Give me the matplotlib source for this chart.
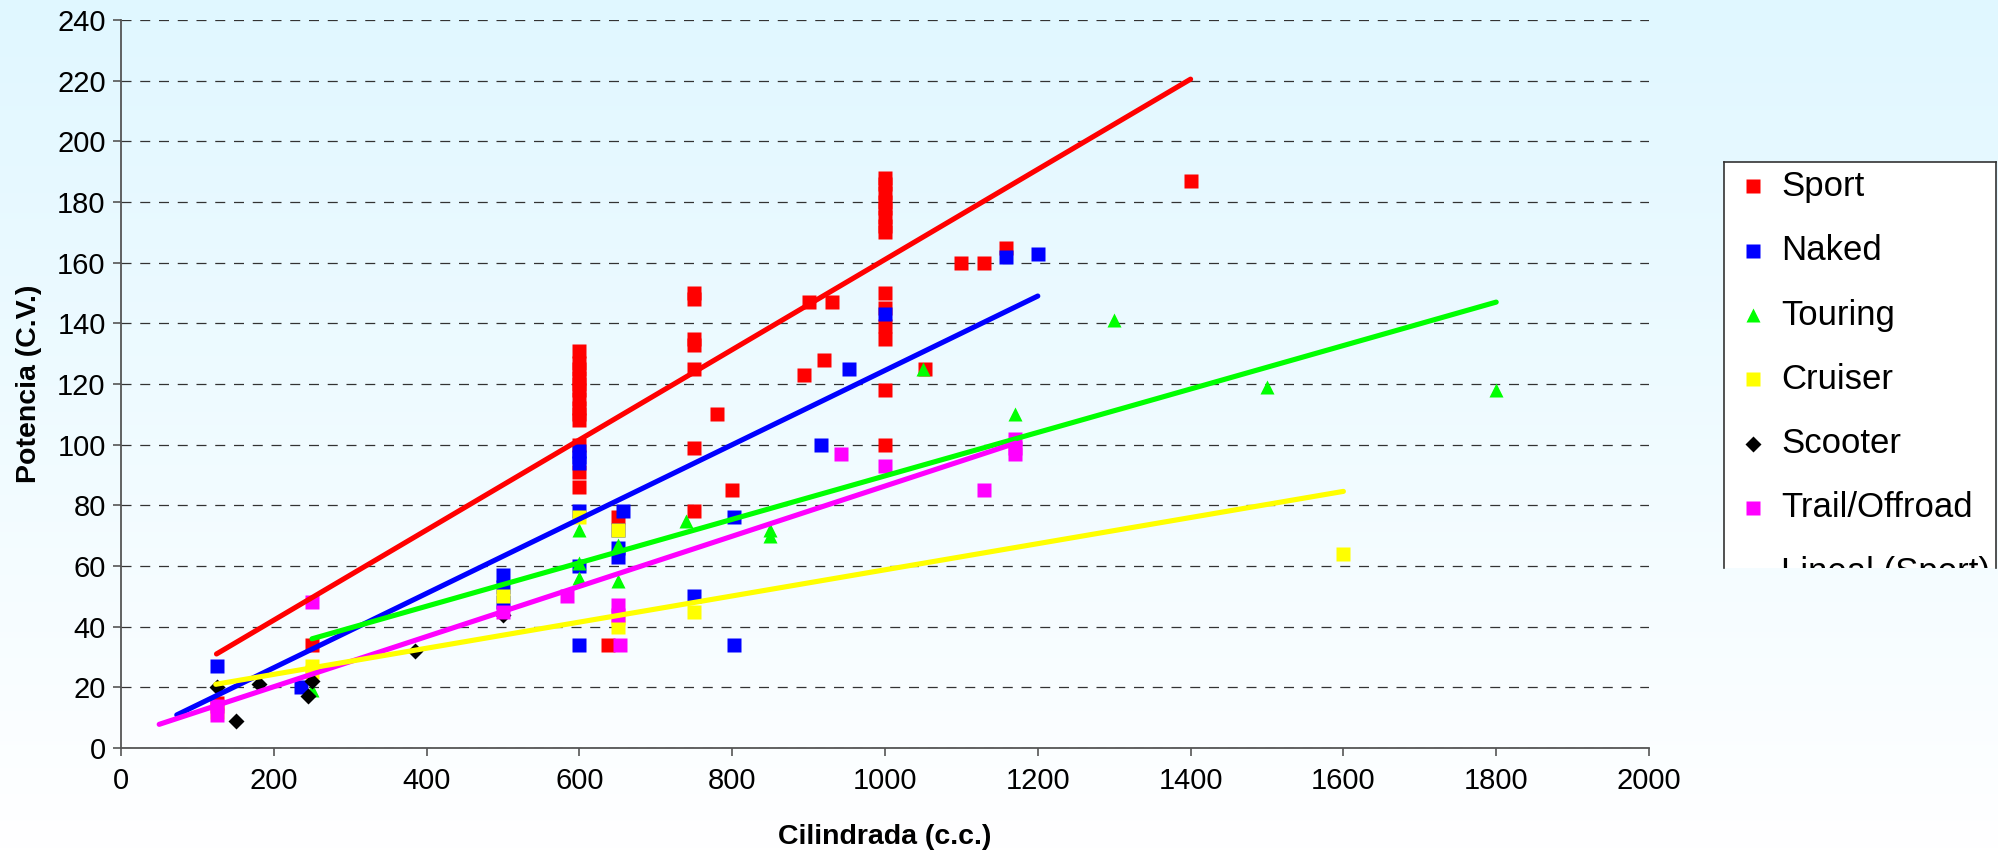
import numpy as np
import matplotlib
matplotlib.use("Agg")
import matplotlib.pyplot as plt

plt.rcParams['font.family'] = ['Liberation Sans', 'DejaVu Sans']

# ---------------- data ----------------
series_names = ["Sport", "Naked", "Touring", "Cruiser", "Scooter", "Trail/Offroad"]

sport_cc = [125, 250, 600, 600, 600, 600, 600, 600, 600, 600, 600, 600, 600, 600, 600,
            637, 650, 750, 750, 750, 750, 750, 750, 750, 780, 800, 894, 900, 920, 930,
            1000, 1000, 1000, 1000, 1000, 1000, 1000, 1000, 1000, 1000, 1000, 1000, 1000, 1000,
            1053, 1100, 1130, 1158, 1400]
sport_cv = [15, 34, 131, 127, 125, 122, 120, 118, 115, 112, 110, 108, 100, 91, 86,
            34, 76, 150, 148, 135, 133, 125, 99, 78, 110, 85, 123, 147, 128, 147,
            188, 186, 183, 180, 178, 175, 172, 170, 150, 145, 139, 135, 118, 100,
            125, 160, 160, 165, 187]

naked_cc = [125, 235, 500, 500, 500, 600, 600, 600, 600, 600, 600, 650, 650, 650, 657,
            750, 803, 803, 916, 953, 1000, 1158, 1200]
naked_cv = [27, 20, 57, 53, 48, 98, 96, 94, 78, 60, 34, 72, 66, 63, 78,
            50, 76, 34, 100, 125, 143, 162, 163]

touring_cc = [250, 600, 600, 600, 650, 650, 740, 850, 850, 1050, 1170, 1300, 1500, 1800]
touring_cv = [19, 72, 61, 56, 67, 55, 75, 72, 70, 125, 110, 141, 119, 118]

cruiser_cc = [125, 250, 250, 500, 600, 650, 650, 650, 750, 1600]
cruiser_cv = [12, 27, 25, 50, 76, 72, 43, 40, 45, 64]

scooter_cc = [125, 150, 180, 245, 250, 385, 500]
scooter_cv = [20, 9, 21, 17, 22, 32, 44]

trail_cc = [125, 125, 250, 500, 584, 650, 650, 653, 943, 1000, 1130, 1170, 1170, 1170]
trail_cv = [11, 14, 48, 45, 50, 47, 44, 34, 97, 93, 85, 102, 99, 97]

# linear trend lines (Lineal): start/end cc and C.V.
trend_names = ["Sport", "Naked", "Touring", "Trail/Offroad", "Cruiser"]
trend_cc0 = [125, 73, 250, 50, 124]
trend_cc1 = [1400, 1200, 1800, 1171, 1600]
trend_cv0 = [31.0, 10.9, 36.0, 7.8, 21.0]
trend_cv1 = [220.5, 149.0, 147.0, 100.5, 84.6]

x_ticks = [0, 200, 400, 600, 800, 1000, 1200, 1400, 1600, 1800, 2000]
y_ticks = [0, 20, 40, 60, 80, 100, 120, 140, 160, 180, 200, 220, 240]

# ---------------- style ----------------
colors = {"Sport": "#FF0000", "Naked": "#0000FF", "Touring": "#00FF00",
          "Cruiser": "#FFFF00", "Scooter": "#000000", "Trail/Offroad": "#FF00FF"}
markers = {"Sport": "s", "Naked": "s", "Touring": "^", "Cruiser": "s",
           "Scooter": "D", "Trail/Offroad": "s"}
msizes = {"s": 10.7, "^": 10.7, "D": 8.3}

W, H = 1998, 851
fig = plt.figure(figsize=(W / 100, H / 100), dpi=100)

# background gradient
bg = fig.add_axes([0, 0, 1, 1], zorder=-10)
grad = np.linspace(0, 1, 256).reshape(-1, 1)
top = np.array([224, 247, 255]) / 255.0
bot = np.array([255, 255, 255]) / 255.0
img = top[None, None, :] * (1 - grad[..., None]) + bot[None, None, :] * grad[..., None]
bg.imshow(img, aspect='auto', extent=[0, 1, 0, 1], origin='upper')
bg.set_axis_off()

ax = fig.add_axes([121 / W, 1 - 748 / H, 1528 / W, 728 / H])
ax.set_facecolor('none')

series = [(sport_cc, sport_cv), (naked_cc, naked_cv), (touring_cc, touring_cv),
          (cruiser_cc, cruiser_cv), (scooter_cc, scooter_cv), (trail_cc, trail_cv)]
for name, (xs, ys) in zip(series_names, series):
    m = markers[name]
    ax.plot(xs, ys, linestyle='none', marker=m, markersize=msizes[m],
            markerfacecolor=colors[name], markeredgecolor='none', zorder=3,
            clip_on=False)

for name, x0, x1, y0, y1 in zip(trend_names, trend_cc0, trend_cc1, trend_cv0, trend_cv1):
    ax.plot([x0, x1], [y0, y1], color=colors[name], lw=3.7,
            solid_capstyle='round', zorder=4)

ax.set_xlim(0, 2000)
ax.set_ylim(0, 240)
ax.set_xticks(x_ticks)
ax.set_yticks(y_ticks)
ax.yaxis.grid(True, color='#333333', linestyle=(0, (8, 7)), lw=0.9)
ax.set_axisbelow(True)
for s in ['top', 'right']:
    ax.spines[s].set_visible(False)
for s in ['left', 'bottom']:
    ax.spines[s].set_color('#555555')
    ax.spines[s].set_linewidth(1.3)
ax.tick_params(axis='both', direction='out', length=6, width=1.2, color='#555555',
               labelsize=21, labelcolor='black')
ax.tick_params(axis='x', pad=8)
ax.tick_params(axis='y', pad=5)

ax.set_xlabel("Cilindrada (c.c.)", fontsize=20.5, fontweight='bold')
ax.set_ylabel("Potencia (C.V.)", fontsize=20.5, fontweight='bold')
ax.xaxis.set_label_coords(0.5, -0.105)
ax.yaxis.set_label_coords(-0.052, 0.5)

# ---------------- legend (clipped at the chart edge) ----------------
lx0, lx1, ly0, ly1 = 1724, 1996, 162, 568
lax = fig.add_axes([lx0 / W, 1 - ly1 / H, (lx1 - lx0) / W, (ly1 - ly0) / H], zorder=5)
lax.set_xlim(lx0, lx1)
lax.set_ylim(ly1, ly0)
lax.set_facecolor('white')
lax.set_xticks([])
lax.set_yticks([])
lax.spines['bottom'].set_visible(False)
for s in ['top', 'left', 'right']:
    lax.spines[s].set_color('#333333')
    lax.spines[s].set_linewidth(1.2)

row0, dy = 186.5, 64.3
for i, name in enumerate(series_names):
    yy = row0 + i * dy
    m = markers[name]
    lax.plot([1752.7], [yy], linestyle='none', marker=m, markersize=msizes[m],
             markerfacecolor=colors[name], markeredgecolor='none')
    lax.text(1781, yy, name, fontsize=25, va='center', ha='left', clip_on=True)
yy = row0 + 6 * dy
lax.plot([1732, 1773], [yy, yy], color=colors["Sport"], lw=3.7)
lax.text(1781, yy, "Lineal (Sport)", fontsize=25, va='center', ha='left', clip_on=True)

fig.savefig("out.png", dpi=100)
